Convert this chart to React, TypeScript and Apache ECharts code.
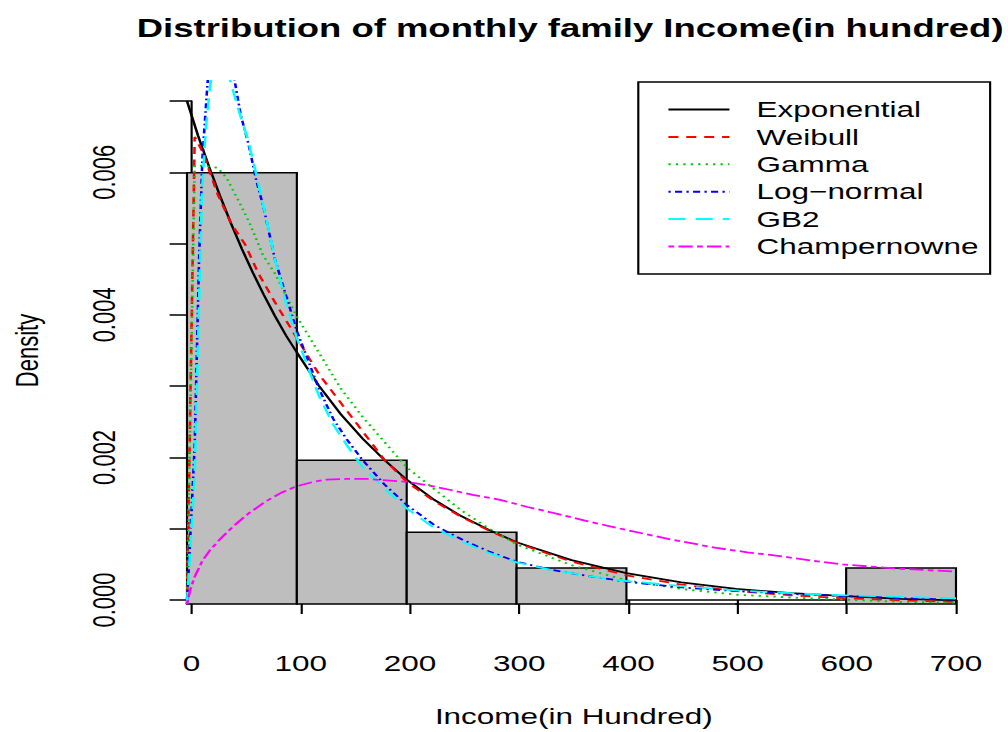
import React, { useEffect, useRef } from "react";
import * as echarts from "echarts";

// ---------------- data ----------------
const binStarts = [0, 100, 200, 300, 400, 500, 600];
const binEnds = [100, 200, 300, 400, 500, 600, 700];
const binDensity = [0.006, 0.002, 0.001, 0.0005, 0, 0, 0.0005];

const xTickValues = [0, 100, 200, 300, 400, 500, 600, 700];
const yTickLabels = ["0.000", "0.002", "0.004", "0.006"];

const exponential = [
  [0, 0.007], [10, 0.00652], [20, 0.00609], [30, 0.00568], [40, 0.0053], [50, 0.00494],
  [60, 0.00461], [70, 0.0043], [80, 0.00401], [90, 0.00374], [100, 0.0035], [120, 0.00304],
  [140, 0.00264], [160, 0.0023], [180, 0.002], [200, 0.00173], [225, 0.00145],
  [250, 0.00122], [275, 0.00103], [300, 0.00086], [350, 0.00061], [400, 0.00043],
  [450, 0.0003], [500, 0.00021], [550, 0.00015], [600, 0.00011], [650, 0.00007], [700, 0.00005],
];
const weibull = [
  [0, 0], [7, 0.0065], [14, 0.0063], [21, 0.006], [28, 0.0057], [40, 0.0053], [53, 0.005],
  [65, 0.0046], [80, 0.0042], [100, 0.0037], [120, 0.0032], [140, 0.0028], [160, 0.0024],
  [180, 0.002], [200, 0.0017], [225, 0.00143], [250, 0.00121], [275, 0.00102],
  [300, 0.00085], [350, 0.00059], [400, 0.0004], [450, 0.00027], [500, 0.00018],
  [550, 0.00012], [600, 0.00008], [650, 0.00005], [700, 0.00003],
];
const gamma = [
  [0, 0], [7, 0.0061], [14, 0.0061], [28, 0.00607], [36, 0.00593], [48, 0.00558],
  [57, 0.0053], [69, 0.00486], [80, 0.0046], [90, 0.0043], [100, 0.004], [120, 0.0035],
  [140, 0.003], [160, 0.0026], [180, 0.00225], [200, 0.0019], [225, 0.0016], [250, 0.0013],
  [275, 0.00105], [300, 0.00083], [350, 0.00054], [400, 0.00033], [450, 0.00021],
  [500, 0.00013], [550, 0.00009], [600, 0.00006], [650, 0.00003], [700, 0.00002],
];
const logNormal = [
  [0, 0], [7, 0.0022], [11, 0.0048], [14, 0.0062], [18, 0.0071], [21, 0.0077],
  [28, 0.0082], [35, 0.008], [42, 0.0074], [49, 0.0068], [56, 0.0064], [63, 0.0059],
  [70, 0.0055], [80, 0.0048], [90, 0.0043], [100, 0.0038], [110, 0.0034], [120, 0.003],
  [133, 0.00258], [145, 0.0023], [160, 0.002], [180, 0.00166], [200, 0.00138],
  [225, 0.0011], [250, 0.0009], [275, 0.00073], [300, 0.00059], [330, 0.00048],
  [365, 0.00039], [400, 0.00031], [450, 0.00023], [500, 0.00018], [550, 0.00014],
  [600, 0.00011], [650, 0.00008], [700, 0.00006],
];
const gb2 = [
  [0, 0], [7, 0.0018], [12, 0.0048], [13.5, 0.0057], [17, 0.0066], [21, 0.0072],
  [25, 0.0076], [30, 0.0078], [35, 0.0076], [39, 0.0073], [46.5, 0.0069],
  [55.5, 0.00646], [63.5, 0.00595], [72.5, 0.00534], [80, 0.0048], [90, 0.0042],
  [100, 0.0037], [110, 0.0033], [120, 0.0029], [133, 0.0025], [145, 0.00222],
  [160, 0.0019], [180, 0.0016], [200, 0.00133], [225, 0.00106], [250, 0.00087],
  [275, 0.00071], [300, 0.00058], [330, 0.00048], [365, 0.00039], [400, 0.00032],
  [450, 0.00025], [500, 0.00019], [550, 0.00015], [600, 0.00012], [650, 0.0001], [700, 0.00008],
];
const champernowne = [
  [0, 0], [3, 0.0002], [7, 0.00038], [14, 0.0006], [21, 0.00075], [30, 0.0009],
  [42, 0.00108], [56, 0.00126], [72, 0.00143], [86, 0.00155], [100, 0.00164],
  [115, 0.0017], [127, 0.00173], [145, 0.00174], [164, 0.00174], [182, 0.00172],
  [200, 0.0017], [220, 0.00165], [239, 0.00159], [260, 0.00152], [285, 0.00145],
  [310, 0.00135], [330, 0.00128], [365, 0.00115], [400, 0.00103], [440, 0.0009],
  [482, 0.00078], [510, 0.00072], [543, 0.00066], [570, 0.0006], [597, 0.00055],
  [650, 0.00049], [700, 0.00045],
];

const seriesNames = ["Exponential", "Weibull", "Gamma", "Log\u2212normal", "GB2", "Champernowne"];

// ---------------- layout (reference pixels) ----------------
const S = 1.43; // horizontal stretch of the reference image
const W = 1008 / S;
const X0 = 187, X1 = 956, YB = 604, YT = 101;
const ppx = (X1 - X0) / 700;
const ppy = (YB - YT) / 0.007;
const FONT = "'Liberation Sans', Arial, Helvetica, sans-serif";

function buildOption() {
  const lineSeries = (name: string, data: number[][], color: string, type: any, width: number) => ({
    type: "line",
    name,
    data,
    xAxisIndex: 1,
    yAxisIndex: 1,
    symbol: "none",
    showSymbol: false,
    clip: true,
    z: 3,
    lineStyle: { color, width, type },
    itemStyle: { color },
  });

  return {
    animation: false,
    backgroundColor: "#ffffff",
    title: {
      text: "Distribution of monthly family Income(in hundred)",
      left: 563 / S,
      top: 10,
      textAlign: "center",
      textStyle: { fontSize: 25.5, fontWeight: "bold", fontFamily: FONT, color: "#000" },
    },
    legend: {
      data: seriesNames,
      orient: "vertical",
      left: 638.3 / S,
      top: 82,
      itemWidth: 61 / S,
      itemHeight: 22,
      itemGap: 5.4,
      padding: [16.5, 8, 16.5, 28.7 / S],
      borderColor: "#000",
      borderWidth: 1.5,
      borderRadius: 0,
      backgroundColor: "#fff",
      selectedMode: false,
      itemStyle: { opacity: 0, color: "rgba(0,0,0,0)", borderWidth: 0 },
      textStyle: { fontSize: 22, fontFamily: FONT, color: "#000", lineHeight: 22, padding: [0, 0, 0, 14] },
    },
    grid: [
      { left: X0 / S, top: YT, width: (X1 - X0) / S, height: YB - YT },
      {
        left: (X0 - 28 * ppx) / S,
        top: YT - 0.00028 * ppy,
        width: (756 * ppx) / S,
        height: 0.00756 * ppy,
      },
    ],
    xAxis: [
      {
        gridIndex: 0,
        type: "value",
        min: xTickValues[0],
        max: xTickValues[xTickValues.length - 1],
        interval: 100,
        offset: 20,
        axisLine: { show: true, lineStyle: { color: "#000", width: 1.5 } },
        axisTick: { show: true, length: 14, lineStyle: { color: "#000", width: 1.5 } },
        axisLabel: { fontSize: 22, fontFamily: FONT, color: "#000", margin: 32 },
        splitLine: { show: false },
        name: "Income(in Hundred)",
        nameLocation: "middle",
        nameGap: 85,
        nameTextStyle: { fontSize: 22, fontFamily: FONT, color: "#000" },
      },
      { gridIndex: 1, type: "value", min: -28, max: 728, show: false },
    ],
    yAxis: [
      {
        gridIndex: 0,
        type: "value",
        min: 0,
        max: 0.007,
        interval: 0.001,
        offset: 30 / S,
        axisLine: { show: true, lineStyle: { color: "#000", width: 1.5 } },
        axisTick: { show: true, length: 22 / S, lineStyle: { color: "#000", width: 1.5 } },
        axisLabel: {
          rotate: 90,
          fontSize: 22,
          fontFamily: FONT,
          color: "#000",
          margin: 29,
          formatter: (v: number) => {
            const k = Math.round(v * 1000);
            return k % 2 === 0 ? yTickLabels[k / 2] || "" : "";
          },
        },
        splitLine: { show: false },
        name: "Density",
        nameLocation: "middle",
        nameGap: 83,
        nameRotate: 90,
        nameTextStyle: { fontSize: 22, fontFamily: FONT, color: "#000" },
      },
      { gridIndex: 1, type: "value", min: -0.00028, max: 0.00728, show: false },
    ],
    series: [
      {
        type: "custom",
        name: "hist",
        xAxisIndex: 1,
        yAxisIndex: 1,
        z: 1,
        data: binStarts.map((s, i) => [s, binEnds[i], binDensity[i]]),
        encode: { x: [0, 1], y: 2 },
        renderItem: (params: any, api: any) => {
          const p0 = api.coord([api.value(0), api.value(2)]);
          const p1 = api.coord([api.value(1), 0]);
          return {
            type: "rect",
            shape: { x: p0[0], y: p0[1], width: p1[0] - p0[0], height: Math.max(p1[1] - p0[1], 0.01) },
            style: { fill: "#BEBEBE", stroke: "#000", lineWidth: 1.5 },
          };
        },
      },
      lineSeries(seriesNames[0], exponential, "#000000", "solid", 1.8),
      lineSeries(seriesNames[1], weibull, "#FF0000", [7, 5.5], 1.8),
      lineSeries(seriesNames[2], gamma, "#00CD00", [1.6, 3.6], 1.8),
      lineSeries(seriesNames[3], logNormal, "#0000FF", [1.6, 3, 5, 3], 1.8),
      lineSeries(seriesNames[4], gb2, "#00FFFF", [12, 7], 1.8),
      lineSeries(seriesNames[5], champernowne, "#FF00FF", [4, 3, 10, 3], 1.8),
    ],
  };
}

export default function App() {
  const ref = useRef<HTMLDivElement>(null);
  useEffect(() => {
    if (!ref.current) return;
    const chart = echarts.init(ref.current, null, { renderer: "svg" });
    chart.setOption(buildOption() as any);
    return () => chart.dispose();
  }, []);
  return (
    <div
      style={{
        position: "absolute",
        left: 0,
        top: 0,
        width: 1008,
        height: 732,
        overflow: "hidden",
        background: "#fff",
      }}
    >
      <div
        ref={ref}
        style={{ width: W, height: 732, transform: `scaleX(${S})`, transformOrigin: "0 0" }}
      />
    </div>
  );
}
